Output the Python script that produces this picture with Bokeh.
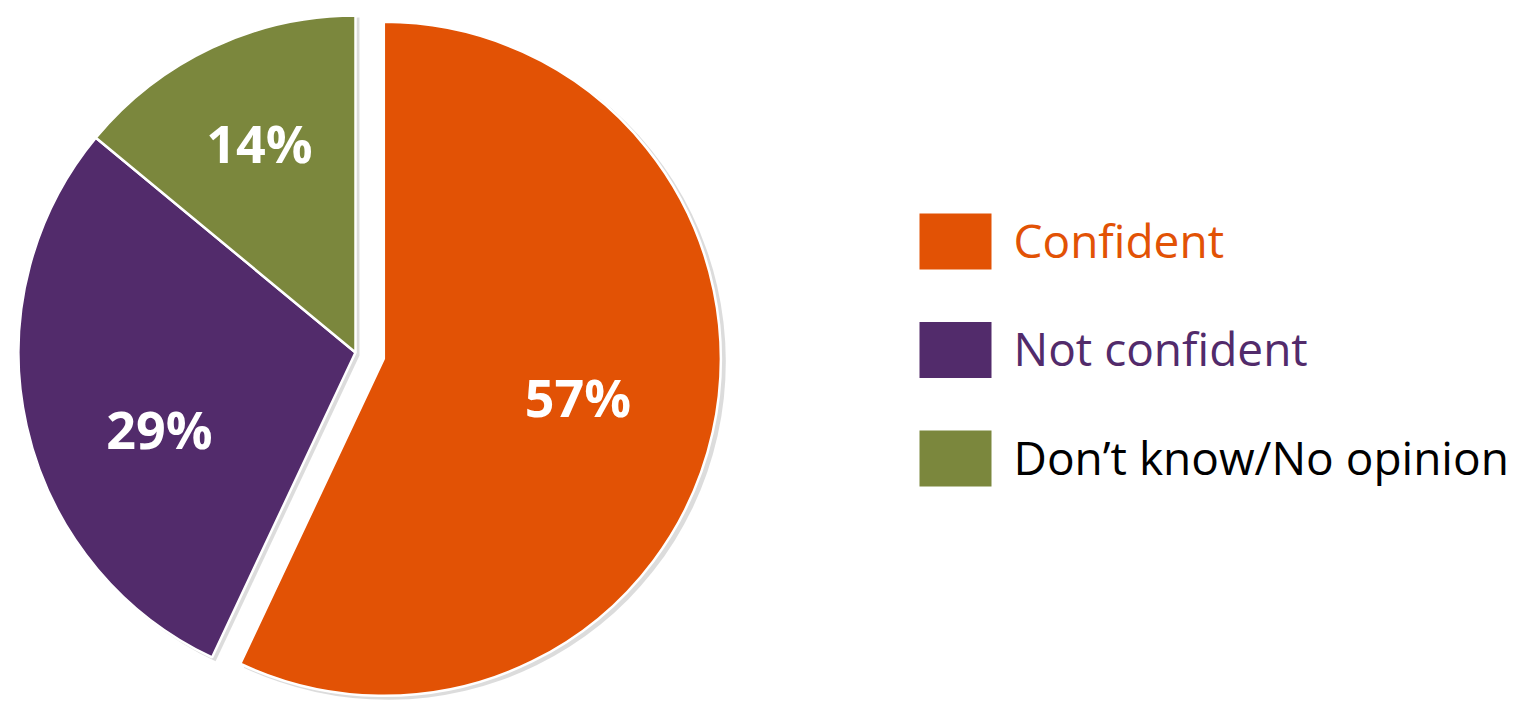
import math
from bokeh.plotting import figure
from bokeh.models import Range1d, ColumnDataSource
from bokeh.core.properties import value
from bokeh.embed import file_html
from bokeh.resources import INLINE

# ---- data ----
categories = ["Confident", "Not confident", "Don\u2019t know/No opinion"]
shares = [57, 29, 14]
labels = ["57%", "29%", "14%"]
colors = ["#E25205", "#522B6B", "#7B873D"]
text_colors = ["#E25205", "#522B6B", "#000000"]

# ---- style / layout ----
W, H = 1524, 707
cx, cy = 355, H - 352
R = 337
explode = [29, 0, 0]
label_r = [0.59, 0.63, 0.67]
label_nudge = [0, 10, 0]
label_dy = 6
FONT = "Open Sans"

p = figure(width=W, height=H, output_backend="svg", toolbar_location=None,
           x_range=Range1d(0, W), y_range=Range1d(0, H),
           x_axis_location=None, y_axis_location=None, min_border=0)
p.grid.visible = False
p.outline_line_color = None
p.background_fill_color = "white"
p.border_fill_color = "white"

total = float(sum(shares))
start = 90.0
wx, wy, sa, ea, lx, ly = [], [], [], [], [], []
for i, s in enumerate(shares):
    sweep = 360.0 * s / total
    end = start - sweep
    mid = math.radians((start + end) / 2)
    ox = cx + explode[i] * math.cos(mid)
    oy = cy + explode[i] * math.sin(mid)
    wx.append(ox); wy.append(oy)
    sa.append(math.radians(end)); ea.append(math.radians(start))
    lm = mid + math.radians(label_nudge[i])
    lx.append(ox + label_r[i] * R * math.cos(lm))
    ly.append(oy + label_r[i] * R * math.sin(lm) + label_dy)
    start = end

src = ColumnDataSource(dict(x=wx, y=wy, sa=sa, ea=ea, color=colors, lx=lx, ly=ly, lab=labels))

# soft shadow
shadow = ColumnDataSource(dict(x=[v + 4 for v in wx], y=[v - 3 for v in wy], sa=sa, ea=ea))
p.wedge(x="x", y="y", radius=R + 1, start_angle="sa", end_angle="ea", source=shadow,
        fill_color="#9a9a9a", fill_alpha=0.35, line_color=None)

p.wedge(x="x", y="y", radius=R, start_angle="sa", end_angle="ea", source=src,
        fill_color="color", line_color="white", line_width=2.5)

p.text(x="lx", y="ly", text="lab", source=src, text_color="white",
       text_font=value(FONT), text_font_style="bold", text_font_size="52px",
       text_align="center", text_baseline="middle")

# legend
leg_x = 955
leg_y0 = H - 241
leg_dy = 108.5
ly_leg = [leg_y0 - i * leg_dy for i in range(len(categories))]
lsrc = ColumnDataSource(dict(x=[leg_x] * 3, y=ly_leg, tx=[1013] * 3, ty=[v + 2 for v in ly_leg],
                             color=colors, tcolor=text_colors, cat=categories))
p.rect(x="x", y="y", width=72, height=56, source=lsrc, fill_color="color", line_color=None)
p.text(x="tx", y="ty", text="cat", source=lsrc, text_color="tcolor",
       text_font=value(FONT), text_font_size="46px", text_align="left", text_baseline="middle")

open("out.html", "w").write(file_html(p, INLINE))
